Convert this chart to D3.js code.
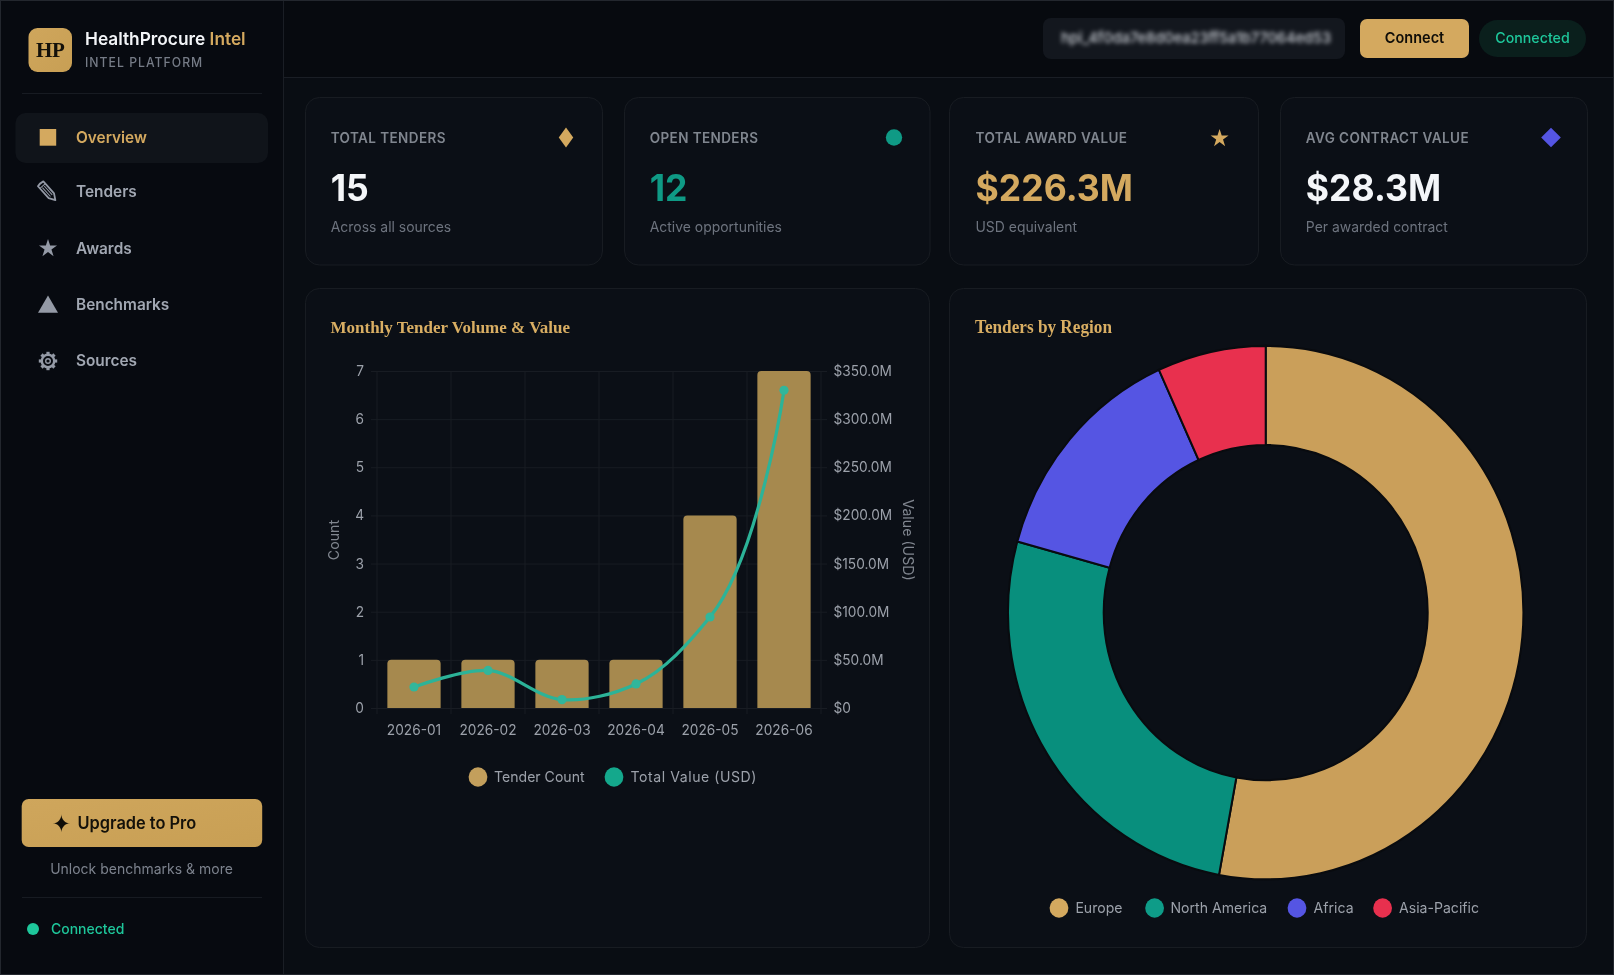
<!DOCTYPE html>
<html><head><meta charset="utf-8">
<script src="https://cdn.jsdelivr.net/npm/d3@7"></script>
<style>
html,body{margin:0;padding:0;background:#090d13;overflow:hidden}
svg{display:block;filter:blur(.35px)}
text{font-family:Inter,"Noto Sans",sans-serif}
.serif{font-family:"Liberation Serif",serif}
.glyph{font-family:"DejaVu Sans",sans-serif}
.tick text{font-family:Inter,sans-serif}
</style></head><body>
<svg id="c" width="1614" height="975"></svg>
<script>
const months=["2026-01","2026-02","2026-03","2026-04","2026-05","2026-06"];
const tenderCount=[1,1,1,1,4,7];
const totalValue=[21.8,39,8.7,25,94.5,330];
const regions=["Europe","North America","Africa","Asia-Pacific"];
const regionShare=[52.9,26.4,13.9,6.8];
const regionColors=["#ca9f5a","#088f7d","#5555e3","#e8304e"];
const legendColors=["#d4a95f","#0e9c88","#5555e3","#e8304e"];
const navItems=["Overview","Tenders","Awards","Benchmarks","Sources"];
const statLabels=["TOTAL TENDERS","OPEN TENDERS","TOTAL AWARD VALUE","AVG CONTRACT VALUE"];
const statValues=["15","12","$226.3M","$28.3M"];
const statSubs=["Across all sources","Active opportunities","USD equivalent","Per awarded contract"];

const GOLD="#d4a95f",TEAL="#14a88c",DTEAL="#0f9a85",GREEN="#1ec79b",ICON="#949aa6",STRETCH=1.035;
const svg=d3.select("#c");
const defs=svg.append("defs");
const g1=defs.append("linearGradient").attr("id","gold").attr("x1",0).attr("y1",0).attr("x2",1).attr("y2",1);
g1.append("stop").attr("offset",0).attr("stop-color","#cfa65c");
g1.append("stop").attr("offset",1).attr("stop-color","#c89f54");
defs.append("filter").attr("id","blur").attr("x","-5%").attr("y","-60%").attr("width","110%").attr("height","220%")
  .append("feGaussianBlur").attr("stdDeviation",2.1);

const T=(s,x,y,size,fill,weight,anchor,extra)=>{
  const t=svg.append("text").attr("transform",`translate(${x},${y}) scale(1,${STRETCH})`).text(s)
    .attr("font-size",size).attr("fill",fill).attr("font-weight",weight||400).attr("text-anchor",anchor||"start");
  if(extra&&extra.cls)t.attr("class",extra.cls);
  if(extra&&extra.ls)t.attr("letter-spacing",extra.ls);
  return t;
};
const R=(x,y,w,h,r,fill,stroke)=>svg.append("rect").attr("x",x).attr("y",y).attr("width",w).attr("height",h)
  .attr("rx",r).attr("fill",fill).attr("stroke",stroke||"none");
const L=(x1,y1,x2,y2,c)=>svg.append("line").attr("x1",x1).attr("y1",y1).attr("x2",x2).attr("y2",y2).attr("stroke",c);
const sym=(type,size,x,y,c,sx)=>svg.append("path").attr("d",d3.symbol().type(type).size(size)()).attr("fill",c)
  .attr("transform",`translate(${x},${y}) scale(${sx||1},1)`);

// shell
R(0,0,1614,975,0,"#090d13");
R(0,0,283,975,0,"#070a10");
R(283,0,1331,77,0,"#070a0f");
L(283.5,0,283.5,975,"#1a1e25");
L(283,77.5,1614,77.5,"#1a1e25");
svg.append("rect").attr("x",.5).attr("y",.5).attr("width",1613).attr("height",974).attr("fill","none").attr("stroke","#23272e");

// brand
R(28.5,28,43.5,44,9,"url(#gold)");
T("HP",50.2,57,21,"#14110a",700,"middle",{cls:"serif",ls:-.4});
const brand=T("HealthProcure ",85,45,17.3,"#f2f4f7",600);
brand.append("tspan").text("Intel").attr("fill",GOLD);
T("INTEL PLATFORM",85,66.5,12.2,"#767c87",500,"start",{ls:1.03});
L(22,93.5,262,93.5,"#171b22");

// nav
R(15.5,113,252.5,50,10,"#10141a");
const navY=[137.5,192,248.5,305,361];
navItems.forEach((n,i)=>T(n,76,navY[i]+5.3,15.4,i==0?GOLD:"#a1a7b2",600));
R(39.7,129,16.5,16.7,0,GOLD);
// pencil icon
const pencil=svg.append("g").attr("transform","translate(48,192) rotate(48)").attr("fill","none").attr("stroke",ICON);
pencil.append("path").attr("d","M-11,-3.6H5L11,0L5,3.6H-11Q-12,0 -11,-3.6Z").attr("stroke-width",1.8).attr("stroke-linejoin","round");
pencil.append("path").attr("d","M-7,-1.2H5M-7,1.2H5M-8,-3.6V3.6").attr("stroke-width",1);
sym(d3.symbolStar,101,48,248.5,ICON);
sym(d3.symbolTriangle,173,48,307,ICON);
// gear icon
const gear=svg.append("g").attr("transform","translate(48,361)").attr("stroke",ICON).attr("fill","none");
gear.append("circle").attr("r",6.2).attr("stroke-width",2.4);
gear.append("circle").attr("r",2.3).attr("stroke-width",1.4);
d3.range(8).forEach(i=>gear.append("line").attr("x1",0).attr("x2",0).attr("y1",-6.5).attr("y2",-9.2)
  .attr("stroke-width",3.2).attr("transform",`rotate(${i*45})`));

// upgrade
R(21.7,799,240.5,48,7,"url(#gold)");
T("\u2726",61.5,832,23,"#0f0d08",400,"middle",{cls:"glyph"});
T("Upgrade to Pro",77.5,829,16.4,"#14110a",600);
T("Unlock benchmarks & more",141.5,874,14,"#7c828d",400,"middle");
L(22,897.5,262,897.5,"#171b22");
svg.append("circle").attr("cx",33).attr("cy",929).attr("r",6).attr("fill",GREEN);
T("Connected",51,933.5,14,GREEN,500);

// header
R(1043,18,302,41,8,"#13171e");
T("hpi_4f0da7e8d0ea23ff5a1b77064ed53",1061,43,14.55,"#c8ccd3",500).attr("filter","url(#blur)");
R(1360,19,109,39,7,GOLD);
T("Connect",1414.5,43,14.5,"#0f0d08",600,"middle");
R(1479,20,107,37,18.5,"#0a1f1c");
T("Connected",1532.5,43,14.2,GREEN,500,"middle");

// stat cards
const cardX=[305,624,949,1280],cardW=[297,305.5,309,307],textX=[330.7,649.7,975.5,1305.8];
const statColors=["#f4f6f9",DTEAL,GOLD,"#f4f6f9"];
cardX.forEach((x,i)=>{
  R(x+.5,97.5,cardW[i],167.5,14,"#0b0f16","#181c22");
  T(statLabels[i],textX[i],142.7,13.5,"#80868f",600,"start",{ls:.42});
  T(statValues[i],textX[i],201,35.6,statColors[i],700);
  T(statSubs[i],textX[i],232,13.95,"#6d737e",400);
});
sym(d3.symbolDiamond,115,566,137.5,GOLD,1.256);
sym(d3.symbolCircle,210,894,137.5,DTEAL);
sym(d3.symbolStar,100,1219.6,138.5,GOLD);
sym(d3.symbolDiamond,112,1551,137.5,"#5555e3",1.73);

// chart cards
R(305.5,288.5,624,659,14,"#0b0f16","#181c22");
R(949.5,288.5,637,659,14,"#0b0f16","#181c22");
T("Monthly Tender Volume & Value",330.5,333,17,"#d9ae63",700,"start",{cls:"serif"});
T("Tenders by Region",975,333,17.2,"#d9ae63",700,"start",{cls:"serif"});

// combo chart
const plot={l:377,r:821,t:371,b:708};
const x=d3.scaleBand().domain(months).range([plot.l,plot.r]).paddingInner(.28).paddingOuter(.14);
const yCount=d3.scaleLinear().domain([0,7]).range([plot.b,plot.t]);
const yValue=d3.scaleLinear().domain([0,350]).range([plot.b,plot.t]);
const gridG=svg.append("g").attr("stroke","#181c23").attr("stroke-width",1);
yCount.ticks(7).forEach(v=>gridG.append("line").attr("x1",plot.l-6).attr("x2",plot.r+6).attr("y1",yCount(v)+.5).attr("y2",yCount(v)+.5));
const step=(plot.r-plot.l)/months.length;
d3.range(months.length+1).forEach(i=>gridG.append("line").attr("x1",plot.l+i*step).attr("x2",plot.l+i*step).attr("y1",plot.t).attr("y2",plot.b+6));

const bar=(d,i)=>{const a=x(months[i]),w=x.bandwidth(),t=yCount(d),b=yCount(0),r=4;
  return `M${a},${b}V${t+r}Q${a},${t} ${a+r},${t}H${a+w-r}Q${a+w},${t} ${a+w},${t+r}V${b}Z`;};
svg.append("g").selectAll("path").data(tenderCount).join("path").attr("d",bar).attr("fill","#a6894e");

const cx=m=>x(m)+x.bandwidth()/2;
const line=d3.line().x((d,i)=>cx(months[i])).y(d=>yValue(d)).curve(d3.curveCatmullRom.alpha(1));
svg.append("path").attr("d",line(totalValue)).attr("fill","none").attr("stroke","#2cb398").attr("stroke-width",3.2);
svg.append("g").selectAll("circle").data(totalValue).join("circle")
  .attr("cx",(d,i)=>cx(months[i])).attr("cy",d=>yValue(d)).attr("r",4.6).attr("fill","#31b69b");

const styleAxis=g=>{g.select(".domain").remove();g.selectAll(".tick line").remove();
  g.selectAll("text").attr("fill","#9ca1aa").attr("font-size",13.7).attr("transform",`scale(1,${STRETCH})`);};
svg.append("g").attr("transform",`translate(${plot.l-13},0)`)
  .call(d3.axisLeft(yCount).ticks(7).tickSize(0).tickPadding(0)).call(styleAxis);
svg.append("g").attr("transform",`translate(${plot.r+12.5},0)`)
  .call(d3.axisRight(yValue).ticks(7).tickSize(0).tickPadding(0).tickFormat(v=>v==0?"$0":`$${v.toFixed(1)}M`)).call(styleAxis);
svg.append("g").attr("transform",`translate(0,${plot.b+16.5})`)
  .call(d3.axisBottom(x).tickSize(0).tickPadding(0)).call(styleAxis);

svg.append("text").text("Count").attr("transform","translate(339,540) rotate(-90)").attr("text-anchor","middle").attr("fill","#80868f").attr("font-size",14.2);
svg.append("text").text("Value (USD)").attr("transform","translate(903,540) rotate(90)").attr("text-anchor","middle").attr("fill","#80868f").attr("font-size",14.2);

const legendY=777;
const dot=(cxx,cyy,c)=>svg.append("ellipse").attr("cx",cxx).attr("cy",cyy).attr("rx",9.4).attr("ry",9.7).attr("fill",c);
dot(478,legendY,"#c39f5c");
T("Tender Count",494,legendY+5,14.1,"#9ca1aa",400);
dot(614,legendY,TEAL);
T("Total Value (USD)",630.5,legendY+5,14.1,"#9ca1aa",400,"start",{ls:.55});

// donut
const pie=d3.pie().sort(null)(regionShare);
const arc=d3.arc().innerRadius(162).outerRadius(257.7);
svg.append("g").attr("transform",`translate(1265.7,612.6) scale(1,${STRETCH})`).selectAll("path").data(pie).join("path")
  .attr("d",arc).attr("fill",(d,i)=>regionColors[i]).attr("stroke","#090b0f").attr("stroke-width",2);
const lx=[1059,1154.6,1297,1382.6],ltx=[1075.4,1170.5,1313.6,1399];
regions.forEach((r,i)=>{
  dot(lx[i],908,legendColors[i]);
  T(r,ltx[i],913,14.1,"#9ca1aa",400);
});
</script>
</body></html>
